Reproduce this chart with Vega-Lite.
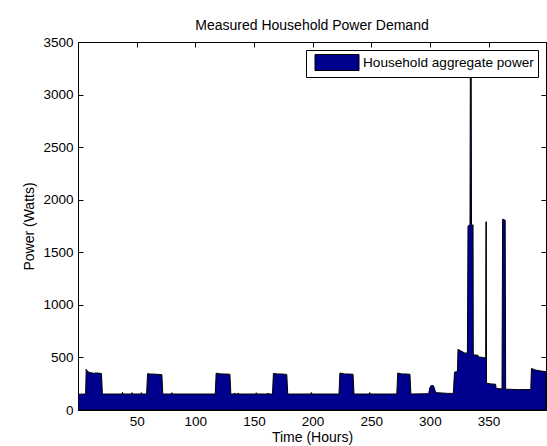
{
  "$schema": "https://vega.github.io/schema/vega-lite/v6.json",
  "width": 468,
  "height": 368,
  "autosize": {"type": "none"},
  "padding": {"left": 78, "top": 42, "right": 1, "bottom": 36},
  "background": "white",
  "config": {
    "font": "Liberation Sans",
    "view": {"stroke": "black", "strokeWidth": 1},
    "axis": {"grid": false, "labelFont": "Liberation Sans", "titleFont": "Liberation Sans", "labelColor": "black", "titleColor": "black", "domainColor": "black", "tickColor": "black", "labelFontSize": 13.5, "titleFontSize": 14, "titleFontWeight": "normal", "format": "d"}
  },
  "title": {"text": "Measured Household Power Demand", "font": "Liberation Sans", "fontSize": 14, "fontWeight": "normal", "color": "black", "offset": 2},
  "data": {"values": [
    {"hour": 0, "power": 150}, {"hour": 6.5, "power": 152}, {"hour": 7, "power": 388}, {"hour": 8, "power": 368}, {"hour": 10, "power": 356}, {"hour": 13, "power": 350}, {"hour": 17, "power": 352}, {"hour": 20, "power": 346}, {"hour": 20.8, "power": 152},
    {"hour": 37.5, "power": 152}, {"hour": 38, "power": 168}, {"hour": 38.5, "power": 152},
    {"hour": 45.5, "power": 152}, {"hour": 46, "power": 165}, {"hour": 46.5, "power": 152},
    {"hour": 53.5, "power": 152}, {"hour": 54, "power": 165}, {"hour": 54.5, "power": 152},
    {"hour": 58.5, "power": 152}, {"hour": 59.3, "power": 345}, {"hour": 62, "power": 342}, {"hour": 66, "power": 341}, {"hour": 71.5, "power": 336}, {"hour": 72.3, "power": 152},
    {"hour": 79.5, "power": 152}, {"hour": 80, "power": 165}, {"hour": 80.5, "power": 152},
    {"hour": 117, "power": 152}, {"hour": 117.8, "power": 350}, {"hour": 122, "power": 343}, {"hour": 126, "power": 342}, {"hour": 129.5, "power": 340}, {"hour": 130.3, "power": 152},
    {"hour": 133.2, "power": 152}, {"hour": 133.7, "power": 162}, {"hour": 134.2, "power": 152},
    {"hour": 136, "power": 152}, {"hour": 136.5, "power": 162}, {"hour": 137, "power": 152},
    {"hour": 151.5, "power": 152}, {"hour": 152, "power": 164}, {"hour": 152.5, "power": 152},
    {"hour": 161.5, "power": 152}, {"hour": 162, "power": 162}, {"hour": 162.5, "power": 152},
    {"hour": 165.8, "power": 152}, {"hour": 166.6, "power": 347}, {"hour": 170, "power": 343}, {"hour": 174, "power": 342}, {"hour": 178, "power": 338}, {"hour": 178.8, "power": 152},
    {"hour": 198.5, "power": 152}, {"hour": 199, "power": 166}, {"hour": 199.5, "power": 152},
    {"hour": 222.5, "power": 152}, {"hour": 223.3, "power": 352}, {"hour": 227, "power": 343}, {"hour": 231, "power": 342}, {"hour": 234.5, "power": 340}, {"hour": 235.3, "power": 152},
    {"hour": 248.2, "power": 152}, {"hour": 248.7, "power": 166}, {"hour": 249.2, "power": 152},
    {"hour": 271.8, "power": 152}, {"hour": 272.6, "power": 352}, {"hour": 276, "power": 343}, {"hour": 280, "power": 342}, {"hour": 283, "power": 340}, {"hour": 283.8, "power": 152},
    {"hour": 299, "power": 155}, {"hour": 300, "power": 215}, {"hour": 301, "power": 232}, {"hour": 303, "power": 232}, {"hour": 304, "power": 200}, {"hour": 305, "power": 165}, {"hour": 310, "power": 162}, {"hour": 315, "power": 158}, {"hour": 320, "power": 158},
    {"hour": 321, "power": 360}, {"hour": 323.5, "power": 365}, {"hour": 324, "power": 577}, {"hour": 326, "power": 565}, {"hour": 330, "power": 540}, {"hour": 332, "power": 545},
    {"hour": 332.5, "power": 1750}, {"hour": 334.2, "power": 1760}, {"hour": 334.5, "power": 3350}, {"hour": 335.2, "power": 3350}, {"hour": 335.5, "power": 1760}, {"hour": 336.8, "power": 1760},
    {"hour": 337, "power": 525}, {"hour": 341, "power": 520}, {"hour": 341.5, "power": 505}, {"hour": 345, "power": 500}, {"hour": 347.6, "power": 495},
    {"hour": 347.8, "power": 1790}, {"hour": 348.1, "power": 1790}, {"hour": 348.3, "power": 255},
    {"hour": 352, "power": 248}, {"hour": 356, "power": 245}, {"hour": 356.5, "power": 206}, {"hour": 361.5, "power": 200},
    {"hour": 362, "power": 1815}, {"hour": 364.2, "power": 1805}, {"hour": 364.6, "power": 198},
    {"hour": 370, "power": 196}, {"hour": 375, "power": 194}, {"hour": 380, "power": 195}, {"hour": 386, "power": 195},
    {"hour": 386.6, "power": 395}, {"hour": 390, "power": 380}, {"hour": 395, "power": 370}, {"hour": 399, "power": 365}
  ]},
  "layer": [
    {
      "mark": {"type": "area", "stroke": "black", "strokeWidth": 1, "clip": true},
      "encoding": {
        "x": {"field": "hour", "type": "quantitative", "scale": {"domain": [0, 399], "nice": false, "zero": false}, "axis": {"orient": "bottom", "title": "Time (Hours)", "values": [50, 100, 150, 200, 250, 300, 350], "tickSize": -5, "labelPadding": 9, "titlePadding": 3}},
        "y": {"field": "power", "type": "quantitative", "scale": {"domain": [0, 3500], "nice": false}, "axis": {"orient": "left", "title": "Power (Watts)", "values": [0, 500, 1000, 1500, 2000, 2500, 3000, 3500], "tickSize": -5, "labelPadding": 10, "titlePadding": 6}},
        "color": {"datum": "Household aggregate power", "type": "nominal", "scale": {"range": ["#00008F"]},
          "legend": {"title": null, "orient": "none", "legendX": 228, "legendY": 8, "symbolType": "M-2.75,-1H2.75V1H-2.75Z", "symbolSize": 256, "symbolStrokeColor": "black", "symbolStrokeWidth": 1, "symbolOpacity": 1, "symbolOffset": 18.5, "labelFont": "Liberation Sans", "labelFontSize": 13.6, "labelLimit": 400, "labelColor": "black", "strokeColor": "black", "fillColor": "white", "padding": 4, "labelOffset": 17.5}}
      }
    },
    {
      "mark": {"type": "point", "opacity": 0},
      "encoding": {
        "x": {"field": "hour", "type": "quantitative", "axis": {"orient": "top", "title": null, "labels": false, "domain": false, "values": [50, 100, 150, 200, 250, 300, 350], "tickSize": -5}},
        "y": {"field": "power", "type": "quantitative", "axis": {"orient": "right", "title": null, "labels": false, "domain": false, "values": [0, 500, 1000, 1500, 2000, 2500, 3000, 3500], "tickSize": -5}}
      }
    }
  ],
  "resolve": {"axis": {"x": "independent", "y": "independent"}}
}
